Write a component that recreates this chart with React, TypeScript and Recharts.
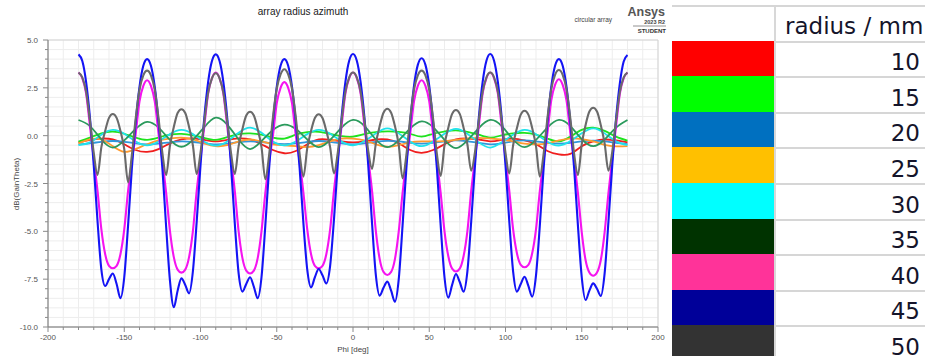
import React from 'react';
import { LineChart, Line, XAxis, YAxis, CartesianGrid } from 'recharts';

// phi grids (deg): fine grid for the big lobes, coarse grid for the flat curves
const phiFine = Array.from({ length: 145 }, (_, i) => -180 + i * 2.5);
const phiCoarse = Array.from({ length: 49 }, (_, i) => -180 + i * 7.5);

const xMinorTicks = Array.from({ length: 41 }, (_, i) => -200 + i * 10);
const xMajorTicks = [-200, -150, -100, -50, 0, 50, 100, 150, 200];
const yMinorTicks = Array.from({ length: 31 }, (_, i) => -10 + i * 0.5);
const yMajorTicks = [-10, -7.5, -5, -2.5, 0, 2.5, 5];

// radius 45 mm
const blue45 = [
  4.25, 3.9, 2.8, 0.95, -1.55, -4.5, -7.0, -7.86, -7.5, -7.2, -7.75, -8.5, -7.4, -4.7, -1.7, 0.7, 2.55, 3.65,
  4.0, 3.65, 2.55, 0.7, -1.7, -4.8, -7.6, -8.97, -8.1, -7.46, -7.8, -8.24, -7.1, -4.5, -1.55, 0.95, 2.8, 3.9,
  4.25, 3.9, 2.8, 0.95, -1.55, -4.6, -7.2, -8.15, -7.75, -7.4, -7.9, -8.5, -7.4, -4.7, -1.7, 0.7, 2.55, 3.65,
  4.0, 3.65, 2.55, 0.7, -1.7, -4.6, -7.0, -7.93, -7.4, -6.97, -7.3, -7.72, -6.8, -4.4, -1.5, 0.95, 2.8, 3.92,
  4.27, 3.92, 2.8, 0.95, -1.55, -4.6, -7.3, -8.36, -7.95, -7.63, -8.1, -8.68, -7.5, -4.7, -1.7, 0.72, 2.6, 3.7,
  4.05, 3.7, 2.6, 0.72, -1.7, -4.7, -7.4, -8.47, -7.8, -7.23, -7.65, -8.15, -7.1, -4.5, -1.55, 0.95, 2.8, 3.92,
  4.27, 3.92, 2.8, 0.95, -1.55, -4.5, -7.1, -8.15, -7.75, -7.37, -7.85, -8.41, -7.3, -4.7, -1.7, 0.7, 2.55, 3.65,
  4.0, 3.65, 2.55, 0.7, -1.7, -4.7, -7.4, -8.59, -8.1, -7.72, -8.0, -8.38, -7.2, -4.5, -1.55, 0.9, 2.75, 3.88,
  4.22,
];

// radius 40 mm
const magenta40 = [
  3.3, 3.0, 2.2, 0.5, -1.2, -2.9, -4.9, -6.2, -6.8, -6.93, -6.8, -6.2, -4.9, -2.9, -1.3, 0.1, 1.8, 2.6,
  2.9, 2.6, 1.8, 0.1, -1.3, -3.0, -5.0, -6.35, -7.0, -7.16, -7.0, -6.35, -5.0, -2.9, -1.2, 0.5, 2.2, 3.0,
  3.3, 3.0, 2.2, 0.5, -1.2, -2.9, -5.0, -6.4, -7.05, -7.2, -7.05, -6.4, -5.0, -3.0, -1.35, 0.0, 1.7, 2.5,
  2.8, 2.5, 1.7, 0.0, -1.35, -3.0, -4.9, -6.2, -6.8, -6.93, -6.8, -6.2, -4.9, -2.9, -1.2, 0.5, 2.2, 3.0,
  3.3, 3.0, 2.2, 0.5, -1.2, -2.9, -5.0, -6.45, -7.12, -7.28, -7.12, -6.45, -5.0, -3.0, -1.3, 0.1, 1.8, 2.6,
  2.9, 2.6, 1.8, 0.1, -1.3, -3.0, -5.0, -6.3, -6.95, -7.1, -6.95, -6.3, -5.0, -2.9, -1.2, 0.5, 2.2, 3.0,
  3.3, 3.0, 2.2, 0.5, -1.2, -2.9, -4.9, -6.15, -6.75, -6.88, -6.75, -6.15, -4.9, -2.9, -1.3, 0.15, 1.85, 2.65,
  2.95, 2.65, 1.85, 0.15, -1.3, -3.0, -5.05, -6.5, -7.15, -7.32, -7.15, -6.5, -5.05, -3.0, -1.2, 0.5, 2.2, 3.0,
  3.3,
];

// radius 50 mm
const gray50 = [
  3.3, 3.05, 2.3, 0.8, -0.9, -2.05, -0.6, 0.25, 0.93, 1.13, 0.93, 0.25, -0.7, -2.44, -1.0, 0.9, 2.4, 3.15,
  3.4, 3.15, 2.4, 0.9, -0.9, -2.05, -0.5, 0.45, 1.18, 1.38, 1.18, 0.45, -0.5, -2.0, -0.9, 0.75, 2.25, 3.0,
  3.26, 3.0, 2.25, 0.75, -0.9, -2.0, -0.55, 0.35, 1.05, 1.25, 1.05, 0.35, -0.6, -2.28, -1.0, 0.95, 2.45, 3.2,
  3.47, 3.2, 2.45, 0.95, -0.95, -2.14, -0.65, 0.25, 0.92, 1.12, 0.92, 0.25, -0.6, -1.97, -0.9, 0.8, 2.3, 3.05,
  3.3, 3.05, 2.3, 0.8, -0.8, -1.74, -0.4, 0.5, 1.2, 1.41, 1.2, 0.5, -0.5, -2.23, -1.0, 0.9, 2.4, 3.15,
  3.4, 3.15, 2.4, 0.9, -0.95, -2.1, -0.5, 0.42, 1.14, 1.34, 1.14, 0.42, -0.45, -1.83, -0.85, 0.8, 2.3, 3.05,
  3.3, 3.05, 2.3, 0.8, -0.9, -1.97, -0.5, 0.4, 1.1, 1.3, 1.1, 0.4, -0.55, -2.14, -0.95, 0.92, 2.42, 3.18,
  3.43, 3.18, 2.42, 0.92, -0.95, -2.05, -0.45, 0.55, 1.26, 1.46, 1.26, 0.55, -0.4, -1.83, -0.85, 0.8, 2.3, 3.05,
  3.3,
];

// radius 35 mm
const seaGreen35 = [
  0.82, 0.5, -0.2, -0.62, -0.25, 0.35,
  0.72, 0.42, -0.22, -0.58, -0.22, 0.45,
  0.94, 0.58, -0.2, -0.7, -0.28, 0.3,
  0.58, 0.35, -0.2, -0.6, -0.22, 0.42,
  0.82, 0.5, -0.2, -0.6, -0.25, 0.38,
  0.75, 0.45, -0.22, -0.65, -0.25, 0.4,
  0.82, 0.5, -0.2, -0.6, -0.22, 0.42,
  0.82, 0.5, -0.18, -0.55, -0.2, 0.42,
  0.82,
];

// radius 30 mm
const cyan30 = [
  -0.49, -0.35, 0.05, 0.3, 0.1, -0.3,
  -0.5, -0.3, 0.08, 0.3, 0.08, -0.32,
  -0.52, -0.3, 0.15, 0.42, 0.15, -0.3,
  -0.5, -0.3, 0.08, 0.3, 0.1, -0.3,
  -0.5, -0.28, 0.12, 0.38, 0.12, -0.3,
  -0.55, -0.3, 0.1, 0.36, 0.1, -0.35,
  -0.62, -0.35, 0.05, 0.3, 0.08, -0.32,
  -0.52, -0.28, 0.12, 0.38, 0.12, -0.3,
  -0.5,
];

// radius 15 mm
const green15 = [
  -0.31, -0.1, 0.12, 0.21, 0.1, -0.1,
  -0.22, -0.1, 0.05, 0.09, 0.02, -0.12,
  -0.22, -0.08, 0.08, 0.12, 0.05, -0.1,
  -0.15, 0.05, 0.18, 0.2, 0.1, -0.02,
  -0.05, 0.08, 0.18, 0.22, 0.2, 0.1,
  -0.05, 0.1, 0.22, 0.28, 0.2, 0.05,
  -0.1, 0.02, 0.12, 0.15, 0.05, -0.15,
  -0.3, -0.05, 0.3, 0.42, 0.25, -0.05,
  -0.26,
];

// radius 10 mm
const red10 = [
  -0.35, -0.22, -0.15, -0.2, -0.45, -0.75,
  -0.85, -0.7, -0.4, -0.2, -0.14, -0.22,
  -0.3, -0.22, -0.14, -0.2, -0.45, -0.75,
  -0.92, -0.8, -0.45, -0.2, -0.22, -0.3,
  -0.35, -0.3, -0.2, -0.2, -0.4, -0.75,
  -0.9, -0.75, -0.45, -0.2, -0.15, -0.2,
  -0.3, -0.22, -0.15, -0.25, -0.45, -0.8,
  -0.98, -0.95, -0.55, -0.3, -0.2, -0.25,
  -0.35,
];

// radius 25 mm
const orange25 = [
  -0.4, -0.2, -0.2, -0.55, -0.84, -0.7,
  -0.45, -0.25, -0.15, -0.1, -0.2, -0.4,
  -0.55, -0.5, -0.3, -0.2, -0.3, -0.45,
  -0.5, -0.55, -0.6, -0.5, -0.3, -0.15,
  -0.15, -0.25, -0.45, -0.58, -0.5, -0.35,
  -0.3, -0.3, -0.28, -0.22, -0.15, -0.12,
  -0.15, -0.2, -0.3, -0.42, -0.46, -0.4,
  -0.25, -0.15, -0.18, -0.3, -0.48, -0.56,
  -0.55,
];

// radius 20 mm
const lightBlue20 = [
  -0.45, -0.4, -0.32, -0.28, -0.32, -0.4,
  -0.45, -0.42, -0.35, -0.3, -0.33, -0.4,
  -0.46, -0.42, -0.34, -0.3, -0.33, -0.4,
  -0.44, -0.4, -0.33, -0.28, -0.32, -0.4,
  -0.45, -0.4, -0.32, -0.27, -0.3, -0.38,
  -0.42, -0.38, -0.3, -0.25, -0.3, -0.38,
  -0.45, -0.4, -0.3, -0.25, -0.3, -0.38,
  -0.42, -0.38, -0.3, -0.26, -0.3, -0.38,
  -0.44,
];

// legend table on the right
const radii = [10, 15, 20, 25, 30, 35, 40, 45, 50];
const swatchColors = ['#ff0000', '#00ff00', '#0070c0', '#ffc000', '#00ffff', '#003300', '#ff3399', '#000099', '#333333'];

const fineRows = phiFine.map((phi, i) => ({ phi, r40: magenta40[i], r45: blue45[i], r50: gray50[i] }));
const coarseRows = phiCoarse.map((phi, i) => ({
  phi,
  r10: red10[i],
  r15: green15[i],
  r20: lightBlue20[i],
  r25: orange25[i],
  r30: cyan30[i],
  r35: seaGreen35[i],
}));

const coarseSeries = [
  { key: 'r10', color: '#f01e1e' },
  { key: 'r15', color: '#1ee31e' },
  { key: 'r20', color: '#2f96dc' },
  { key: 'r25', color: '#ff9a2e' },
  { key: 'r30', color: '#1fe2ec' },
  { key: 'r35', color: '#2a9a5c' },
];
const fineSeries = [
  { key: 'r40', color: '#f514f0' },
  { key: 'r45', color: '#1414f5' },
  { key: 'r50', color: '#6a6a6a' },
];

const FONT = '"Liberation Sans", Arial, sans-serif';

const XTick = (props: any) => {
  const { x, y, payload } = props;
  const v = payload.value;
  const major = v % 50 === 0;
  return (
    <g>
      <line x1={x} x2={x} y1={y} y2={y + (major ? 5 : 3)} stroke="#8a8a8a" />
      {major && (
        <text x={x} y={y + 13} textAnchor="middle" fontSize={8} fill="#555" fontFamily={FONT}>
          {v}
        </text>
      )}
    </g>
  );
};

const YTick = (props: any) => {
  const { x, y, payload } = props;
  const v = payload.value;
  const major = Math.abs(v / 2.5 - Math.round(v / 2.5)) < 1e-6;
  return (
    <g>
      <line x1={x} x2={x - (major ? 5 : 3)} y1={y} y2={y} stroke="#8a8a8a" />
      {major && (
        <text x={x - 10} y={y + 3} textAnchor="end" fontSize={8} fill="#555" fontFamily={FONT}>
          {v.toFixed(1)}
        </text>
      )}
    </g>
  );
};

const ROW_H = 35.6;

const LegendTable = () => (
  <div style={{ position: 'absolute', left: 672, top: 5, width: 253, fontFamily: '"DejaVu Sans", Verdana, sans-serif', color: '#14142a' }}>
    <div style={{ position: 'relative', height: 35.7, borderTop: '2px solid #d6d6d6', boxSizing: 'border-box' }}>
      <div style={{ position: 'absolute', left: 102, top: 0, bottom: 0, width: 2, background: '#d8d8d8' }} />
      <div style={{ position: 'absolute', left: 113, top: 8, fontSize: 23, lineHeight: '23px', whiteSpace: 'nowrap' }}>
        radius / mm
      </div>
    </div>
    {radii.map((r, i) => (
      <div key={r} style={{ position: 'relative', height: ROW_H }}>
        <div style={{ position: 'absolute', left: 0, top: 0, width: 102, height: ROW_H, background: swatchColors[i] }} />
        <div style={{ position: 'absolute', left: 102, top: 0, width: 2, height: ROW_H, background: '#d8d8d8' }} />
        <div style={{ position: 'absolute', left: 104, right: 0, top: 0, height: 2, background: '#d6d6d6' }} />
        <div style={{ position: 'absolute', right: 5, top: 10.6, fontSize: 23, lineHeight: '23px' }}>{r}</div>
      </div>
    ))}
  </div>
);

export default function App() {
  return (
    <div style={{ position: 'fixed', left: 0, top: 0, width: 925, height: 356, background: '#fff', overflow: 'hidden' }}>
      <div style={{ position: 'absolute', left: 0, top: 0 }}>
        <LineChart width={665} height={356} margin={{ top: 40, right: 7, bottom: 0, left: 0 }}>
          <CartesianGrid xAxisId="x" yAxisId="y" stroke="#ededed" />
          <CartesianGrid xAxisId="xt" yAxisId="yr" stroke="#d4d4d4" />
          <XAxis
            xAxisId="x"
            dataKey="phi"
            type="number"
            domain={[-200, 200]}
            ticks={xMinorTicks}
            interval={0}
            allowDataOverflow
            height={29}
            tickSize={0}
            tickMargin={0}
            tickLine={false}
            axisLine={{ stroke: '#7a7a7a' }}
            tick={(p: any) => <XTick {...p} />}
          />
          <XAxis
            xAxisId="xt"
            orientation="top"
            type="number"
            domain={[-200, 200]}
            ticks={xMajorTicks}
            allowDataOverflow
            height={0}
            tick={false}
            tickLine={false}
            axisLine={{ stroke: '#a8a8a8', strokeWidth: 2 }}
          />
          <YAxis
            yAxisId="y"
            type="number"
            domain={[-10, 5]}
            ticks={yMinorTicks}
            interval={0}
            allowDataOverflow
            width={48}
            tickSize={0}
            tickMargin={0}
            tickLine={false}
            axisLine={{ stroke: '#7a7a7a' }}
            tick={(p: any) => <YTick {...p} />}
          />
          <YAxis
            yAxisId="yr"
            orientation="right"
            type="number"
            domain={[-10, 5]}
            ticks={yMajorTicks}
            allowDataOverflow
            width={0}
            tick={false}
            tickLine={false}
            axisLine={{ stroke: '#a0a0a0', strokeWidth: 1.5 }}
          />
          {coarseSeries.map((s) => (
            <Line
              key={s.key}
              xAxisId="x"
              yAxisId="y"
              data={coarseRows}
              dataKey={s.key}
              type="natural"
              stroke={s.color}
              strokeWidth={1.8}
              dot={false}
              isAnimationActive={false}
            />
          ))}
          {fineSeries.map((s) => (
            <Line
              key={s.key}
              xAxisId="x"
              yAxisId="y"
              data={fineRows}
              dataKey={s.key}
              type="monotone"
              stroke={s.color}
              strokeWidth={2.1}
              dot={false}
              isAnimationActive={false}
            />
          ))}
        </LineChart>
      </div>
      <svg width={925} height={356} style={{ position: 'absolute', left: 0, top: 0, pointerEvents: 'none' }}>
        <text x={303} y={15} textAnchor="middle" fontSize={10} fill="#1a1a1a" fontFamily={FONT}>
          array radius azimuth
        </text>
        <text x={612} y={22} textAnchor="end" fontSize={6.5} fill="#444" fontFamily={FONT}>
          circular array
        </text>
        <text x={665} y={16} textAnchor="end" fontSize={12.5} fontWeight="bold" fill="#555" fontFamily={FONT}>
          Ansys
        </text>
        <text x={665} y={24} textAnchor="end" fontSize={5.5} fontWeight="bold" fill="#444" fontFamily={FONT}>
          2023 R2
        </text>
        <line x1={633} x2={666} y1={26} y2={26} stroke="#777" strokeWidth={0.8} />
        <text x={666} y={33} textAnchor="end" fontSize={6} fontWeight="bold" fill="#333" fontFamily={FONT}>
          STUDENT
        </text>
        <text x={353} y={352} textAnchor="middle" fontSize={8} fill="#444" fontFamily={FONT}>
          Phi [deg]
        </text>
        <text x={19} y={184} transform="rotate(-90 19 184)" textAnchor="middle" fontSize={8} fill="#444" fontFamily={FONT}>
          dB(GainTheta)
        </text>
      </svg>
      <LegendTable />
    </div>
  );
}
